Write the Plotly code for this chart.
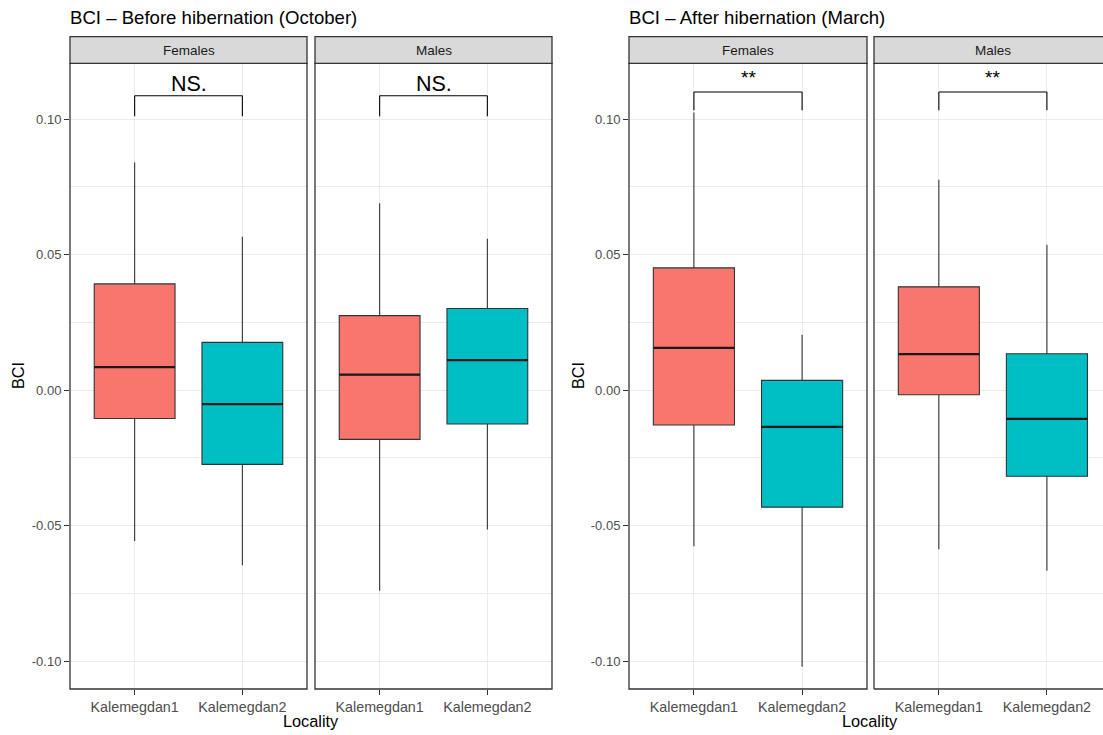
import plotly.graph_objects as go

W, H = 1103, 735

localities = ["Kalemegdan1", "Kalemegdan2"]
sexes = ["Females", "Males"]
fills = ["#F8766D", "#00BFC4"]

# order: [Females K1, Females K2, Males K1, Males K2]
oct_upper = [0.0840, 0.0566, 0.0690, 0.0559]
oct_q3 = [0.0392, 0.0176, 0.0275, 0.0301]
oct_median = [0.0085, -0.0052, 0.0057, 0.0111]
oct_q1 = [-0.0105, -0.0274, -0.0182, -0.0125]
oct_lower = [-0.0557, -0.0646, -0.0740, -0.0514]

mar_upper = [0.1024, 0.0204, 0.0776, 0.0536]
mar_q3 = [0.0451, 0.0036, 0.0381, 0.0134]
mar_median = [0.0156, -0.0136, 0.0133, -0.0106]
mar_q1 = [-0.0129, -0.0432, -0.0017, -0.0318]
mar_lower = [-0.0576, -0.1021, -0.0587, -0.0667]

oct_sig = ["NS.", "NS."]
mar_sig = ["**", "**"]
oct_bracket = [0.1086, 0.1011]   # bar height, tip bottom
mar_bracket = [0.1100, 0.1033]

titles = ["BCI \u2013 Before hibernation (October)", "BCI \u2013 After hibernation (March)"]
ytickvals = [-0.10, -0.05, 0.00, 0.05, 0.10]
yticktext = ["-0.10", "-0.05", "0.00", "0.05", "0.10"]
yminor = [-0.075, -0.025, 0.025, 0.075]
yrange = [-0.1103, 0.1206]

FONT = "Liberation Sans, Arial, sans-serif"
DARK = "#333333"
GRID = "#EBEBEB"

# facet pixel boxes (left, right) ; plot area vertical pixels
facet_px = [(70, 307), (315, 552), (629, 867), (874, 1103)]
xranges = [[-0.6, 1.6], [-0.6, 1.6], [-0.6, 1.6], [-0.6, 1.519]]
top_px, bot_px = 63.3, 689.0
strip_top_px = 36.7

def px2x(p):
    return p / W

def px2y(p):
    return 1 - p / H

fig = go.Figure()

datasets = [
    (oct_upper, oct_q3, oct_median, oct_q1, oct_lower),
    (mar_upper, mar_q3, mar_median, mar_q1, mar_lower),
]

shapes = []
annotations = []

for f in range(4):
    plot = f // 2
    sex = f % 2
    xa = "x" if f == 0 else f"x{f+1}"
    ya = "y" if plot == 0 else "y2"
    up, q3, med, q1, lo = datasets[plot]
    for k, loc in enumerate(localities):
        i = sex * 2 + k
        fig.add_trace(go.Box(
            x=[loc], q1=[q1[i]], median=[med[i]], q3=[q3[i]],
            lowerfence=[lo[i]], upperfence=[up[i]],
            fillcolor=fills[k], line=dict(color=DARK, width=1.1),
            width=0.75, whiskerwidth=0, boxpoints=False,
            xaxis=xa, yaxis=ya, showlegend=False, hoverinfo="skip",
        ))
        # thicker median line (ggplot fatten)
        shapes.append(dict(type="line", xref=xa, yref=ya,
                           x0=k - 0.375, x1=k + 0.375, y0=med[i], y1=med[i],
                           line=dict(color="#1a1a1a", width=2.2), layer="above"))

    # significance bracket
    br = oct_bracket if plot == 0 else mar_bracket
    lab = (oct_sig if plot == 0 else mar_sig)[sex]
    for xk in (0, 1):
        shapes.append(dict(type="line", xref=xa, yref=ya, x0=xk, x1=xk,
                           y0=br[1], y1=br[0], line=dict(color="black", width=1.1)))
    shapes.append(dict(type="line", xref=xa, yref=ya, x0=0, x1=1,
                       y0=br[0], y1=br[0], line=dict(color="black", width=1.1)))
    if lab == "NS.":
        annotations.append(dict(text=lab, xref=xa, yref=ya, x=0.5, y=br[0],
                                yanchor="bottom", yshift=-2, showarrow=False,
                                font=dict(family=FONT, size=21.5, color="black")))
    else:
        annotations.append(dict(text=lab, xref=xa, yref=ya, x=0.5, y=br[0],
                                yanchor="bottom", yshift=2, showarrow=False,
                                font=dict(family=FONT, size=19, color="black")))

    # panel border
    xd = f"{xa} domain"
    yd = f"{ya} domain"
    if f < 3:
        shapes.append(dict(type="rect", xref=xd, yref=yd, x0=0, x1=1, y0=0, y1=1,
                           line=dict(color=DARK, width=1.3), layer="above"))
    else:
        for (x0, y0, x1, y1) in [(0, 0, 0, 1), (0, 0, 1, 0), (0, 1, 1, 1)]:
            shapes.append(dict(type="line", xref=xd, yref=yd, x0=x0, x1=x1, y0=y0, y1=y1,
                               line=dict(color=DARK, width=1.3), layer="above"))
    # strip
    sy0, sy1 = px2y(top_px), px2y(strip_top_px)
    shapes.append(dict(type="rect", xref=xd, yref="paper", x0=0, x1=1.0 if f < 3 else 1.05,
                       y0=sy0, y1=sy1, fillcolor="#D9D9D9",
                       line=dict(color=DARK, width=1.3), layer="above"))
    l, r = facet_px[f]
    full_r = l + (r - l) * (2.2 / (xranges[f][1] - xranges[f][0]))
    annotations.append(dict(text=sexes[sex], xref="paper", yref="paper",
                            x=px2x((l + full_r) / 2), y=(sy0 + sy1) / 2,
                            xanchor="center", yanchor="middle", showarrow=False,
                            font=dict(family=FONT, size=13.5, color="#1A1A1A")))

# titles
for p, (xp) in enumerate([70, 629]):
    annotations.append(dict(text=titles[p], xref="paper", yref="paper",
                            x=px2x(xp - 2), y=px2y(18), xanchor="left", yanchor="middle",
                            showarrow=False, font=dict(family=FONT, size=18.6, color="black")))
# axis titles
for xc in [(70 + 552) / 2, (629 + 1112) / 2]:
    annotations.append(dict(text="Locality", xref="paper", yref="paper",
                            x=px2x(xc), y=px2y(721), xanchor="center", yanchor="middle",
                            showarrow=False, font=dict(family=FONT, size=16.3, color="black")))
for xc in [18, 578]:
    annotations.append(dict(text="BCI", xref="paper", yref="paper", textangle=-90,
                            x=px2x(xc), y=px2y(376), xanchor="center", yanchor="middle",
                            showarrow=False, font=dict(family=FONT, size=16.3, color="black")))

layout = dict(
    width=W, height=H, margin=dict(l=0, r=0, t=0, b=0),
    paper_bgcolor="white", plot_bgcolor="white",
    shapes=shapes, annotations=annotations, showlegend=False,
    boxmode="overlay",
)

ydom = [px2y(bot_px), px2y(top_px)]
for f in range(4):
    l, r = facet_px[f]
    key = "xaxis" if f == 0 else f"xaxis{f+1}"
    layout[key] = dict(
        domain=[px2x(l), px2x(r)], anchor="y" if f < 2 else "y2",
        type="category", categoryorder="array", categoryarray=localities,
        range=xranges[f], showgrid=True, gridcolor=GRID, gridwidth=1,
        ticks="outside", ticklen=5, tickcolor=DARK, tickwidth=1.1,
        showline=False, zeroline=False, fixedrange=True,
        tickfont=dict(family=FONT, size=14.3, color="#4D4D4D"),
    )

for p in range(2):
    key = "yaxis" if p == 0 else "yaxis2"
    layout[key] = dict(
        domain=ydom, anchor="x" if p == 0 else "x3", range=yrange,
        tickmode="array", tickvals=ytickvals, ticktext=yticktext,
        showgrid=True, gridcolor=GRID, gridwidth=1,
        minor=dict(tickmode="array", tickvals=yminor, showgrid=True,
                   gridcolor=GRID, gridwidth=0.6, ticks=""),
        ticks="outside", ticklen=5, tickcolor=DARK, tickwidth=1.1,
        showline=False, zeroline=False, fixedrange=True,
        tickfont=dict(family=FONT, size=13, color="#4D4D4D"),
    )

fig.update_layout(**layout)
fig.write_html(
    "out.html",
    config={"displayModeBar": False},
    post_script="document.body.style.margin='0';document.body.style.padding='0';document.body.style.overflow='hidden';",
)
